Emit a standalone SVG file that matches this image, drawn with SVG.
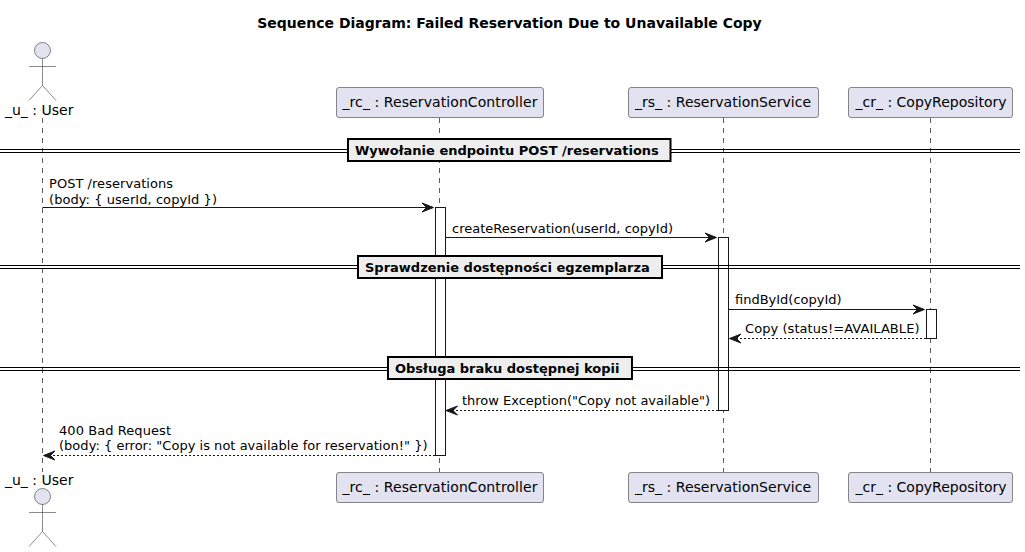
<svg xmlns="http://www.w3.org/2000/svg" width="1025" height="552" viewBox="0 0 1025 552">
<style>
text{font-family:"DejaVu Sans",sans-serif;font-size:13px;fill:#000}
.b{font-weight:bold}
.t{font-size:14px;font-weight:bold}
.p{font-size:14px}
.life{stroke:#181818;stroke-opacity:.7;stroke-width:1;stroke-dasharray:5 5;fill:none}
.box{fill:#E2E2F0;stroke:#181818;stroke-width:.5}
.act{fill:#fff;stroke:#181818;stroke-width:1}
.msg{stroke:#181818;stroke-width:1;fill:none}
.ret{stroke:#181818;stroke-width:1;fill:none;stroke-dasharray:2 2}
.head{fill:#181818;stroke:#181818;stroke-width:1}
.div{stroke:#000;stroke-width:1;fill:none}
.dbox{fill:#EEE;stroke:#000;stroke-width:2}
.actor{fill:none;stroke:#181818;stroke-width:.5}
.hd{fill:#E2E2F0;stroke:#181818;stroke-width:.5}
</style>
<text class="t" x="509.500" y="28" text-anchor="middle">Sequence Diagram: Failed Reservation Due to Unavailable Copy</text>
<g id="lifelines">
<path class="life" d="M42.500 118V472"/><path class="life" d="M439.500 118V472"/><path class="life" d="M723.500 118V472"/><path class="life" d="M930.500 118V472"/>
</g>
<g id="user-top"><circle class="hd" cx="42.500" cy="50.500" r="8"/><path class="actor" d="M42.500 58.500V85.500M29 66.500H56M42.500 85.500L29 100.500M42.500 85.500L56 100.500"/><text class="p" x="5" y="115">_u_ : User</text></g>
<g id="user-bottom"><text class="p" x="5" y="485">_u_ : User</text><circle class="hd" cx="42.500" cy="496.500" r="8"/><path class="actor" d="M42.500 504.500V531.500M29 512.500H56M42.500 531.500L29 546.500M42.500 531.500L56 546.500"/></g>
<g id="rc-top"><rect class="box" x="336.500" y="87.500" width="207" height="30" rx="2.500"/><text class="p" x="342.500" y="107" textLength="195">_rc_ : ReservationController</text></g>
<g id="rs-top"><rect class="box" x="628.500" y="87.500" width="190" height="30" rx="2.500"/><text class="p" x="635" y="107" textLength="176">_rs_ : ReservationService</text></g>
<g id="cr-top"><rect class="box" x="848.500" y="87.500" width="164" height="30" rx="2.500"/><text class="p" x="855.500" y="107">_cr_ : CopyRepository</text></g>
<g id="rc-bottom"><rect class="box" x="336.500" y="472.500" width="207" height="30" rx="2.500"/><text class="p" x="342.500" y="492" textLength="195">_rc_ : ReservationController</text></g>
<g id="rs-bottom"><rect class="box" x="628.500" y="472.500" width="190" height="30" rx="2.500"/><text class="p" x="635" y="492" textLength="176">_rs_ : ReservationService</text></g>
<g id="cr-bottom"><rect class="box" x="848.500" y="472.500" width="164" height="30" rx="2.500"/><text class="p" x="855.500" y="492">_cr_ : CopyRepository</text></g>
<g id="activations">
<rect class="act" x="435.500" y="207.500" width="10" height="248"/>
<rect class="act" x="718.500" y="237.500" width="10" height="173"/>
<rect class="act" x="926.500" y="309.500" width="10" height="29"/>
</g>
<g id="dividers">
<path class="div" d="M0 149.500H1020M0 152.500H1020M0 265.500H1020M0 268.500H1020M0 367.500H1020M0 370.500H1020"/>
<rect class="dbox" x="348" y="139" width="322.500" height="22"/><text class="b" x="355" y="155">Wywołanie endpointu POST /reservations</text>
<rect class="dbox" x="358" y="256" width="304" height="22"/><text class="b" x="365" y="272">Sprawdzenie dostępności egzemplarza</text>
<rect class="dbox" x="388" y="357" width="244" height="22"/><text class="b" x="395" y="373">Obsługa braku dostępnej kopii</text>
</g>
<g id="connectors">
<path class="msg" d="M42.500 207.500H433"/><path class="head" d="M422 203L433.500 207.500L422 212L426.500 207.500Z"/>
<path class="msg" d="M445.500 237.500H716"/><path class="head" d="M705 233L716.500 237.500L705 242L709.500 237.500Z"/>
<path class="msg" d="M728.500 309.500H924"/><path class="head" d="M913 305L924.500 309.500L913 314L917.500 309.500Z"/>
<path class="ret" d="M926 338.500H730"/><path class="head" d="M741 334L729.500 338.500L741 343L736.500 338.500Z"/>
<path class="ret" d="M718 410.500H447"/><path class="head" d="M457.500 406L446 410.500L457.500 415L453 410.500Z"/>
<path class="ret" d="M435 455.500H44"/><path class="head" d="M55 451L43.500 455.500L55 460L50.500 455.500Z"/>
</g>
<g id="labels">
<text x="49" y="188" textLength="124">POST /reservations</text><text x="49" y="203.500" textLength="168">(body: { userId, copyId })</text>
<text x="452" y="232.500" textLength="221">createReservation(userId, copyId)</text>
<text x="735" y="304" textLength="106.500">findById(copyId)</text>
<text x="745" y="333" textLength="174.500">Copy (status!=AVAILABLE)</text>
<text x="462" y="405" textLength="248">throw Exception("Copy not available")</text>
<text x="59" y="435" textLength="112">400 Bad Request</text><text x="59" y="450" textLength="368.500">(body: { error: "Copy is not available for reservation!" })</text>
</g>
</svg>
